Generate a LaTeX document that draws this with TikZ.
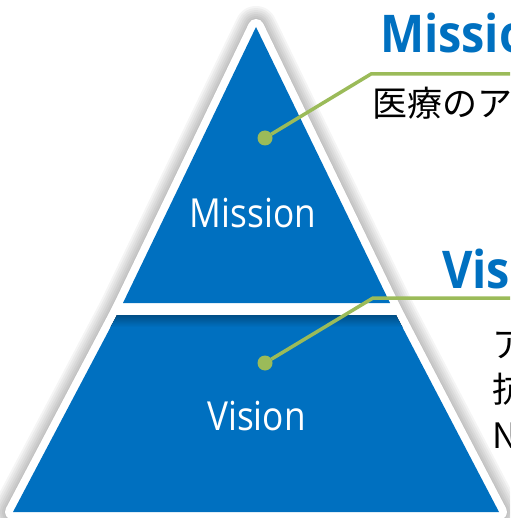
\documentclass[tikz,border=0pt]{standalone}
\usepackage{fontspec}
\setmainfont{Open Sans}
\newfontfamily\jpfont{Noto Sans CJK JP}
\definecolor{pyrblue}{RGB}{0,112,192}
\definecolor{leafgreen}{RGB}{155,187,89}
\begin{document}
\begin{tikzpicture}
      [x=1pt, y=-1pt,
      every node/.style={inner sep=0pt, outer sep=0pt},
      tier/.style={fill=pyrblue},
      rim/.style={fill=white, draw=white, line width=16pt, line join=round},
      leader/.style={draw=leafgreen, line width=3.5pt},
      leaderdot/.style={circle, fill=leafgreen, minimum size=15pt},
      tierlabel/.style={white, anchor=base, xscale=0.88, font=\fontsize{40}{40}\selectfont},
      titletext/.style={pyrblue, anchor=base west, xscale=0.9, font=\fontsize{52}{52}\selectfont\bfseries},
      jptext/.style={anchor=base west, font=\fontsize{35}{35}\selectfont\jpfont},
      ]
      \useasboundingbox (0,0) rectangle (510,518);
      \clip (0,0) rectangle (510,518);
      \coordinate (apex) at (256,27);
      \coordinate (upleft) at (123,303);
      \coordinate (upright) at (390,303);
      \coordinate (lowleft) at (117,315);
      \coordinate (lowright) at (396,315);
      \coordinate (baseleft) at (13,512);
      \coordinate (baseright) at (499,512);
      \foreach \w in {18,22,...,42}
        \draw[black, opacity=0.04, line width=\w pt, line join=round, xshift=5pt]
          (apex) -- (upleft) -- (lowleft) -- (baseleft) -- (baseright) -- (lowright) -- (upright) -- cycle;
      \path[rim] (apex) -- (upleft) -- (lowleft) -- (baseleft) -- (baseright) -- (lowright) -- (upright) -- cycle;
      \fill[tier] (apex) -- (upleft) -- (upright) -- cycle;
      \fill[tier] (lowleft) -- (baseleft) -- (baseright) -- (lowright) -- cycle;
      \begin{scope}
        \clip (lowleft) -- (baseleft) -- (baseright) -- (lowright) -- cycle;
        \fill[top color=pyrblue!70!black, bottom color=pyrblue] (100,315) rectangle (410,327);
      \end{scope}
      \node[tierlabel] (missionlabel) at (253,227) {Mission};
      \node[tierlabel] (visionlabel) at (256.5,430) {Vision};
      \node[titletext] (missiontitle) at (380,53) {Mission};
      \node[titletext] (visiontitle) at (442,288) {Vision};
      \node[jptext] (missiontext) at (372,117) {医療のア};
      \node[jptext] (visionline1) at (492,357) {ア};
      \node[jptext] (visionline2) at (492,402) {抗};
      \node[jptext] (visionline3) at (492,448) {N};
      \node[leaderdot] (missiondot) at (265,138) {};
      \coordinate (missionbend) at (371,74);
      \coordinate (missionend) at (520,74);
      \draw[leader] (missiondot) -- (missionbend) -- (missionend);
      \node[leaderdot] (visiondot) at (265,363) {};
      \coordinate (visionbend) at (373,298);
      \coordinate (visionend) at (520,298);
      \draw[leader] (visiondot) -- (visionbend) -- (visionend);
      \end{tikzpicture}
\end{document}
